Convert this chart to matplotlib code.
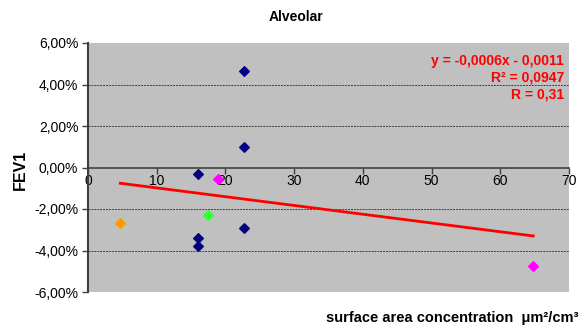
import numpy as np
import matplotlib
matplotlib.use("Agg")
import matplotlib.pyplot as plt
from matplotlib.ticker import FuncFormatter

plt.rcParams['font.family'] = ['Liberation Sans', 'DejaVu Sans']

# measured points (surface area concentration, FEV1 change in %)
blue_x = [22.7, 22.7, 16.0, 22.7, 16.0, 16.0]
blue_y = [4.65, 0.99, -0.31, -2.90, -3.40, -3.80]
pink_x = [18.9, 64.8]
pink_y = [-0.54, -4.76]
orange_x = [4.7]
orange_y = [-2.69]
green_x = [17.5]
green_y = [-2.30]

# linear trendline as drawn in the chart
trend_x = [4.7, 64.8]
trend_y = [-0.76, -3.30]

eq_lines = ["y = -0,0006x - 0,0011", "R\u00b2 = 0,0947", "R = 0,31"]

fig = plt.figure(figsize=(5.8, 3.25), dpi=100)
ax = fig.add_axes([88 / 580, 1 - 292 / 325, (569 - 88) / 580, (292 - 43) / 325])
ax.set_facecolor('#C0C0C0')

ax.plot(trend_x, trend_y, color='#FF0000', lw=2, zorder=3)
ax.scatter(blue_x, blue_y, marker='D', s=24, color='#000080', zorder=4)
ax.scatter(pink_x, pink_y, marker='D', s=24, color='#FF00FF', zorder=4)
ax.scatter(orange_x, orange_y, marker='D', s=24, color='#FF9900', zorder=4)
ax.scatter(green_x, green_y, marker='D', s=24, color='#33FF33', zorder=4)

ax.set_xlim(0, 70)
ax.set_ylim(-6, 6)
ax.set_yticks(np.arange(-6, 6.1, 2))
ax.set_xticks(np.arange(0, 71, 10))
ax.yaxis.set_major_formatter(FuncFormatter(lambda v, p: ('%.2f%%' % v).replace('.', ',')))

for g in [-4, -2, 2, 4]:
    ax.axhline(g, color='#404040', lw=0.7, ls=(0, (2, 1)), zorder=1)

for s in ['top', 'right']:
    ax.spines[s].set_visible(False)
ax.spines['left'].set_color('#404040')
ax.spines['left'].set_linewidth(1.5)
ax.spines['bottom'].set_position(('data', 0))
ax.spines['bottom'].set_color('#404040')
ax.spines['bottom'].set_linewidth(1.2)
ax.tick_params(axis='both', labelsize=10, direction='out', length=4, color='#404040', width=1)
ax.tick_params(axis='x', pad=1)
ax.tick_params(axis='y', pad=3)

ax.text(0.99, 0.955, '\n'.join(eq_lines), transform=ax.transAxes, ha='right', va='top',
        color='#FF0000', fontsize=10, fontweight='bold', linespacing=1.25)

fig.text(296 / 580, 1 - 17 / 325, 'Alveolar', ha='center', va='center', fontsize=10, fontweight='bold')
fig.text(20 / 580, 1 - 170 / 325, 'FEV1', ha='center', va='center', rotation=90, fontsize=11.5, fontweight='bold')
fig.text(578 / 580, 1 - 318 / 325, 'surface area concentration  \u03bcm\u00b2/cm\u00b3', ha='right', va='center',
         fontsize=10.5, fontweight='bold')

fig.savefig('out.png', dpi=100)
